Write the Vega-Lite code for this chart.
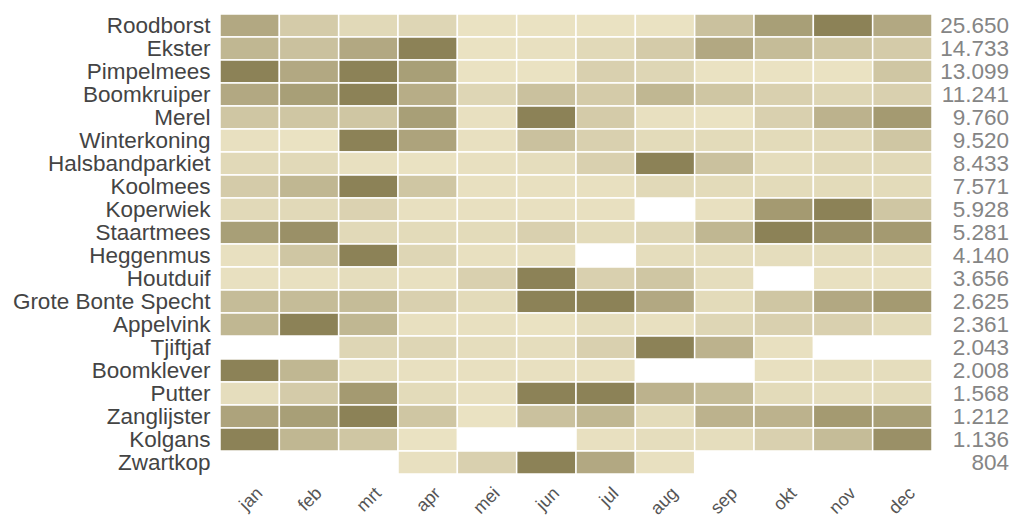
{
  "$schema": "https://vega.github.io/schema/vega-lite/v6.json",
  "padding": {"left": 12, "top": 13, "right": 6, "bottom": 0},
  "background": "white",
  "config": {"view": {"stroke": null}, "font": "Liberation Sans", "concat": {"spacing": 0}},
  "datasets": {
    "cells": [
      {"bird":"Roodborst","month":"jan","v":0.6},{"bird":"Roodborst","month":"feb","v":0.25},{"bird":"Roodborst","month":"mrt","v":0.12},{"bird":"Roodborst","month":"apr","v":0.15},{"bird":"Roodborst","month":"mei","v":0.03},{"bird":"Roodborst","month":"jun","v":0.03},{"bird":"Roodborst","month":"jul","v":0.03},{"bird":"Roodborst","month":"aug","v":0.03},{"bird":"Roodborst","month":"sep","v":0.35},{"bird":"Roodborst","month":"okt","v":0.7},{"bird":"Roodborst","month":"nov","v":1},{"bird":"Roodborst","month":"dec","v":0.6},
      {"bird":"Ekster","month":"jan","v":0.45},{"bird":"Ekster","month":"feb","v":0.35},{"bird":"Ekster","month":"mrt","v":0.6},{"bird":"Ekster","month":"apr","v":1},{"bird":"Ekster","month":"mei","v":0.03},{"bird":"Ekster","month":"jun","v":0.05},{"bird":"Ekster","month":"jul","v":0.12},{"bird":"Ekster","month":"aug","v":0.25},{"bird":"Ekster","month":"sep","v":0.6},{"bird":"Ekster","month":"okt","v":0.4},{"bird":"Ekster","month":"nov","v":0.3},{"bird":"Ekster","month":"dec","v":0.25},
      {"bird":"Pimpelmees","month":"jan","v":1},{"bird":"Pimpelmees","month":"feb","v":0.6},{"bird":"Pimpelmees","month":"mrt","v":1},{"bird":"Pimpelmees","month":"apr","v":0.7},{"bird":"Pimpelmees","month":"mei","v":0.03},{"bird":"Pimpelmees","month":"jun","v":0.03},{"bird":"Pimpelmees","month":"jul","v":0.2},{"bird":"Pimpelmees","month":"aug","v":0.15},{"bird":"Pimpelmees","month":"sep","v":0.03},{"bird":"Pimpelmees","month":"okt","v":0.03},{"bird":"Pimpelmees","month":"nov","v":0.03},{"bird":"Pimpelmees","month":"dec","v":0.3},
      {"bird":"Boomkruiper","month":"jan","v":0.6},{"bird":"Boomkruiper","month":"feb","v":0.7},{"bird":"Boomkruiper","month":"mrt","v":1},{"bird":"Boomkruiper","month":"apr","v":0.55},{"bird":"Boomkruiper","month":"mei","v":0.15},{"bird":"Boomkruiper","month":"jun","v":0.35},{"bird":"Boomkruiper","month":"jul","v":0.25},{"bird":"Boomkruiper","month":"aug","v":0.45},{"bird":"Boomkruiper","month":"sep","v":0.3},{"bird":"Boomkruiper","month":"okt","v":0.2},{"bird":"Boomkruiper","month":"nov","v":0.15},{"bird":"Boomkruiper","month":"dec","v":0.2},
      {"bird":"Merel","month":"jan","v":0.3},{"bird":"Merel","month":"feb","v":0.3},{"bird":"Merel","month":"mrt","v":0.3},{"bird":"Merel","month":"apr","v":0.7},{"bird":"Merel","month":"mei","v":0.05},{"bird":"Merel","month":"jun","v":1},{"bird":"Merel","month":"jul","v":0.25},{"bird":"Merel","month":"aug","v":0.05},{"bird":"Merel","month":"sep","v":0.03},{"bird":"Merel","month":"okt","v":0.2},{"bird":"Merel","month":"nov","v":0.5},{"bird":"Merel","month":"dec","v":0.75},
      {"bird":"Winterkoning","month":"jan","v":0.05},{"bird":"Winterkoning","month":"feb","v":0.03},{"bird":"Winterkoning","month":"mrt","v":1},{"bird":"Winterkoning","month":"apr","v":0.65},{"bird":"Winterkoning","month":"mei","v":0.05},{"bird":"Winterkoning","month":"jun","v":0.35},{"bird":"Winterkoning","month":"jul","v":0.2},{"bird":"Winterkoning","month":"aug","v":0.1},{"bird":"Winterkoning","month":"sep","v":0.1},{"bird":"Winterkoning","month":"okt","v":0.1},{"bird":"Winterkoning","month":"nov","v":0.12},{"bird":"Winterkoning","month":"dec","v":0.3},
      {"bird":"Halsbandparkiet","month":"jan","v":0.12},{"bird":"Halsbandparkiet","month":"feb","v":0.12},{"bird":"Halsbandparkiet","month":"mrt","v":0.05},{"bird":"Halsbandparkiet","month":"apr","v":0.03},{"bird":"Halsbandparkiet","month":"mei","v":0.05},{"bird":"Halsbandparkiet","month":"jun","v":0.08},{"bird":"Halsbandparkiet","month":"jul","v":0.2},{"bird":"Halsbandparkiet","month":"aug","v":1},{"bird":"Halsbandparkiet","month":"sep","v":0.35},{"bird":"Halsbandparkiet","month":"okt","v":0.08},{"bird":"Halsbandparkiet","month":"nov","v":0.12},{"bird":"Halsbandparkiet","month":"dec","v":0.12},
      {"bird":"Koolmees","month":"jan","v":0.25},{"bird":"Koolmees","month":"feb","v":0.45},{"bird":"Koolmees","month":"mrt","v":1},{"bird":"Koolmees","month":"apr","v":0.3},{"bird":"Koolmees","month":"mei","v":0.05},{"bird":"Koolmees","month":"jun","v":0.05},{"bird":"Koolmees","month":"jul","v":0.05},{"bird":"Koolmees","month":"aug","v":0.12},{"bird":"Koolmees","month":"sep","v":0.1},{"bird":"Koolmees","month":"okt","v":0.1},{"bird":"Koolmees","month":"nov","v":0.1},{"bird":"Koolmees","month":"dec","v":0.1},
      {"bird":"Koperwiek","month":"jan","v":0.12},{"bird":"Koperwiek","month":"feb","v":0.12},{"bird":"Koperwiek","month":"mrt","v":0.18},{"bird":"Koperwiek","month":"apr","v":0.05},{"bird":"Koperwiek","month":"mei","v":0.05},{"bird":"Koperwiek","month":"jun","v":0.05},{"bird":"Koperwiek","month":"jul","v":0.05},{"bird":"Koperwiek","month":"sep","v":0.05},{"bird":"Koperwiek","month":"okt","v":0.75},{"bird":"Koperwiek","month":"nov","v":1},{"bird":"Koperwiek","month":"dec","v":0.3},
      {"bird":"Staartmees","month":"jan","v":0.7},{"bird":"Staartmees","month":"feb","v":0.85},{"bird":"Staartmees","month":"mrt","v":0.12},{"bird":"Staartmees","month":"apr","v":0.1},{"bird":"Staartmees","month":"mei","v":0.1},{"bird":"Staartmees","month":"jun","v":0.2},{"bird":"Staartmees","month":"jul","v":0.1},{"bird":"Staartmees","month":"aug","v":0.15},{"bird":"Staartmees","month":"sep","v":0.45},{"bird":"Staartmees","month":"okt","v":1},{"bird":"Staartmees","month":"nov","v":0.85},{"bird":"Staartmees","month":"dec","v":0.75},
      {"bird":"Heggenmus","month":"jan","v":0.05},{"bird":"Heggenmus","month":"feb","v":0.3},{"bird":"Heggenmus","month":"mrt","v":1},{"bird":"Heggenmus","month":"apr","v":0.15},{"bird":"Heggenmus","month":"mei","v":0.05},{"bird":"Heggenmus","month":"jun","v":0.05},{"bird":"Heggenmus","month":"aug","v":0.08},{"bird":"Heggenmus","month":"sep","v":0.08},{"bird":"Heggenmus","month":"okt","v":0.08},{"bird":"Heggenmus","month":"nov","v":0.08},{"bird":"Heggenmus","month":"dec","v":0.08},
      {"bird":"Houtduif","month":"jan","v":0.05},{"bird":"Houtduif","month":"feb","v":0.05},{"bird":"Houtduif","month":"mrt","v":0.08},{"bird":"Houtduif","month":"apr","v":0.05},{"bird":"Houtduif","month":"mei","v":0.2},{"bird":"Houtduif","month":"jun","v":1},{"bird":"Houtduif","month":"jul","v":0.2},{"bird":"Houtduif","month":"aug","v":0.3},{"bird":"Houtduif","month":"sep","v":0.08},{"bird":"Houtduif","month":"nov","v":0.05},{"bird":"Houtduif","month":"dec","v":0.05},
      {"bird":"Grote Bonte Specht","month":"jan","v":0.4},{"bird":"Grote Bonte Specht","month":"feb","v":0.4},{"bird":"Grote Bonte Specht","month":"mrt","v":0.4},{"bird":"Grote Bonte Specht","month":"apr","v":0.2},{"bird":"Grote Bonte Specht","month":"mei","v":0.1},{"bird":"Grote Bonte Specht","month":"jun","v":1},{"bird":"Grote Bonte Specht","month":"jul","v":1},{"bird":"Grote Bonte Specht","month":"aug","v":0.6},{"bird":"Grote Bonte Specht","month":"sep","v":0.1},{"bird":"Grote Bonte Specht","month":"okt","v":0.3},{"bird":"Grote Bonte Specht","month":"nov","v":0.6},{"bird":"Grote Bonte Specht","month":"dec","v":0.75},
      {"bird":"Appelvink","month":"jan","v":0.45},{"bird":"Appelvink","month":"feb","v":1},{"bird":"Appelvink","month":"mrt","v":0.45},{"bird":"Appelvink","month":"apr","v":0.05},{"bird":"Appelvink","month":"mei","v":0.05},{"bird":"Appelvink","month":"jun","v":0.03},{"bird":"Appelvink","month":"jul","v":0.08},{"bird":"Appelvink","month":"aug","v":0.05},{"bird":"Appelvink","month":"sep","v":0.15},{"bird":"Appelvink","month":"okt","v":0.2},{"bird":"Appelvink","month":"nov","v":0.2},{"bird":"Appelvink","month":"dec","v":0.1},
      {"bird":"Tjiftjaf","month":"mrt","v":0.15},{"bird":"Tjiftjaf","month":"apr","v":0.15},{"bird":"Tjiftjaf","month":"mei","v":0.08},{"bird":"Tjiftjaf","month":"jun","v":0.08},{"bird":"Tjiftjaf","month":"jul","v":0.2},{"bird":"Tjiftjaf","month":"aug","v":1},{"bird":"Tjiftjaf","month":"sep","v":0.5},{"bird":"Tjiftjaf","month":"okt","v":0.05},
      {"bird":"Boomklever","month":"jan","v":1},{"bird":"Boomklever","month":"feb","v":0.45},{"bird":"Boomklever","month":"mrt","v":0.08},{"bird":"Boomklever","month":"apr","v":0.05},{"bird":"Boomklever","month":"mei","v":0.05},{"bird":"Boomklever","month":"jun","v":0.05},{"bird":"Boomklever","month":"jul","v":0.05},{"bird":"Boomklever","month":"okt","v":0.05},{"bird":"Boomklever","month":"nov","v":0.08},{"bird":"Boomklever","month":"dec","v":0.08},
      {"bird":"Putter","month":"jan","v":0.08},{"bird":"Putter","month":"feb","v":0.25},{"bird":"Putter","month":"mrt","v":0.75},{"bird":"Putter","month":"apr","v":0.1},{"bird":"Putter","month":"mei","v":0.05},{"bird":"Putter","month":"jun","v":1},{"bird":"Putter","month":"jul","v":1},{"bird":"Putter","month":"aug","v":0.5},{"bird":"Putter","month":"sep","v":0.4},{"bird":"Putter","month":"okt","v":0.1},{"bird":"Putter","month":"nov","v":0.08},{"bird":"Putter","month":"dec","v":0.1},
      {"bird":"Zanglijster","month":"jan","v":0.65},{"bird":"Zanglijster","month":"feb","v":0.7},{"bird":"Zanglijster","month":"mrt","v":1},{"bird":"Zanglijster","month":"apr","v":0.3},{"bird":"Zanglijster","month":"mei","v":0.03},{"bird":"Zanglijster","month":"jun","v":0.35},{"bird":"Zanglijster","month":"jul","v":0.45},{"bird":"Zanglijster","month":"aug","v":0.1},{"bird":"Zanglijster","month":"sep","v":0.5},{"bird":"Zanglijster","month":"okt","v":0.5},{"bird":"Zanglijster","month":"nov","v":0.75},{"bird":"Zanglijster","month":"dec","v":0.7},
      {"bird":"Kolgans","month":"jan","v":1},{"bird":"Kolgans","month":"feb","v":0.45},{"bird":"Kolgans","month":"mrt","v":0.3},{"bird":"Kolgans","month":"apr","v":0.03},{"bird":"Kolgans","month":"jul","v":0.05},{"bird":"Kolgans","month":"aug","v":0.08},{"bird":"Kolgans","month":"sep","v":0.08},{"bird":"Kolgans","month":"okt","v":0.2},{"bird":"Kolgans","month":"nov","v":0.4},{"bird":"Kolgans","month":"dec","v":0.85},
      {"bird":"Zwartkop","month":"apr","v":0.05},{"bird":"Zwartkop","month":"mei","v":0.2},{"bird":"Zwartkop","month":"jun","v":1},{"bird":"Zwartkop","month":"jul","v":0.6},{"bird":"Zwartkop","month":"aug","v":0.05}
    ],
    "totals": [
      {"bird":"Roodborst","total":"25.650"},{"bird":"Ekster","total":"14.733"},{"bird":"Pimpelmees","total":"13.099"},{"bird":"Boomkruiper","total":"11.241"},{"bird":"Merel","total":"9.760"},{"bird":"Winterkoning","total":"9.520"},{"bird":"Halsbandparkiet","total":"8.433"},{"bird":"Koolmees","total":"7.571"},{"bird":"Koperwiek","total":"5.928"},{"bird":"Staartmees","total":"5.281"},{"bird":"Heggenmus","total":"4.140"},{"bird":"Houtduif","total":"3.656"},{"bird":"Grote Bonte Specht","total":"2.625"},{"bird":"Appelvink","total":"2.361"},{"bird":"Tjiftjaf","total":"2.043"},{"bird":"Boomklever","total":"2.008"},{"bird":"Putter","total":"1.568"},{"bird":"Zanglijster","total":"1.212"},{"bird":"Kolgans","total":"1.136"},{"bird":"Zwartkop","total":"804"}
    ]
  },
  "hconcat": [
    {
      "width": 712,
      "height": 460,
      "data": {"name": "cells"},
      "mark": {"type": "rect", "stroke": "white", "strokeWidth": 1.5},
      "encoding": {
        "x": {"field": "month", "type": "ordinal", "sort": ["jan","feb","mrt","apr","mei","jun","jul","aug","sep","okt","nov","dec"], "scale": {"domain": ["jan","feb","mrt","apr","mei","jun","jul","aug","sep","okt","nov","dec"], "paddingInner": 0, "paddingOuter": 0},
          "axis": {"title": null, "labelAngle": -45, "labelFontSize": 18, "labelColor": "#555555", "domain": false, "ticks": false, "labelPadding": 10, "labelOffset": 4}},
        "y": {"field": "bird", "type": "nominal", "scale": {"domain": ["Roodborst","Ekster","Pimpelmees","Boomkruiper","Merel","Winterkoning","Halsbandparkiet","Koolmees","Koperwiek","Staartmees","Heggenmus","Houtduif","Grote Bonte Specht","Appelvink","Tjiftjaf","Boomklever","Putter","Zanglijster","Kolgans","Zwartkop"], "paddingInner": 0, "paddingOuter": 0},
          "axis": {"title": null, "labelFontSize": 22.5, "labelColor": "#444444", "domain": false, "ticks": false, "labelPadding": 10, "labelLimit": 400}},
        "color": {"field": "v", "type": "quantitative", "scale": {"domain": [0, 1], "range": ["#ede5c6", "#8c8257"]}, "legend": null}
      }
    },
    {
      "width": 76,
      "height": 460,
      "data": {"name": "totals"},
      "mark": {"type": "text", "align": "right", "baseline": "middle", "fontSize": 22.5, "color": "#858585", "x": "width"},
      "encoding": {
        "y": {"field": "bird", "type": "nominal", "scale": {"domain": ["Roodborst","Ekster","Pimpelmees","Boomkruiper","Merel","Winterkoning","Halsbandparkiet","Koolmees","Koperwiek","Staartmees","Heggenmus","Houtduif","Grote Bonte Specht","Appelvink","Tjiftjaf","Boomklever","Putter","Zanglijster","Kolgans","Zwartkop"], "paddingInner": 0, "paddingOuter": 0}, "axis": null},
        "text": {"field": "total", "type": "nominal"}
      }
    }
  ]
}
